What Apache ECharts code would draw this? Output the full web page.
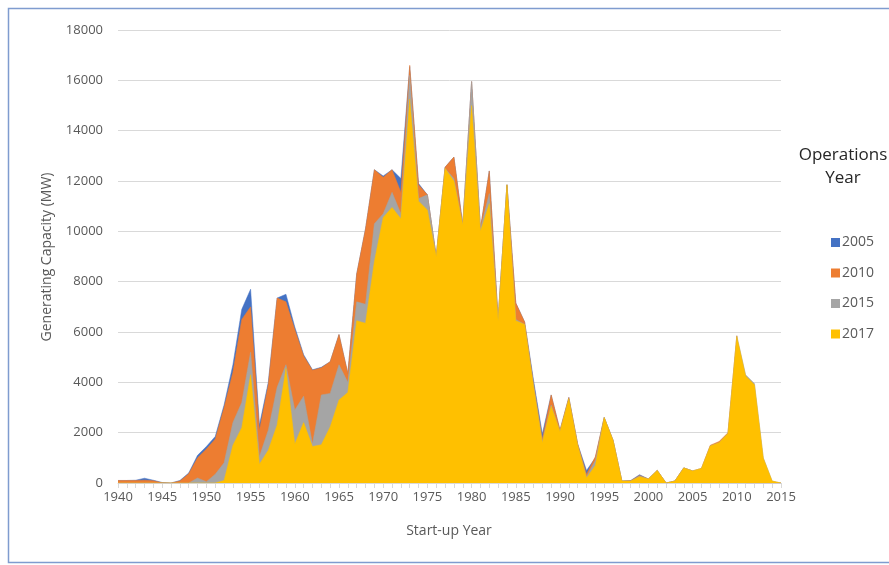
<!DOCTYPE html>
<html>
<head>
<meta charset="utf-8">
<script src="https://cdn.jsdelivr.net/npm/echarts@6/dist/echarts.min.js"></script>
<style>
html,body{margin:0;padding:0;background:#fff;}
#chart{width:889px;height:565px;}
</style>
</head>
<body>
<div id="chart"></div>
<script>
const years = ['1940','1941','1942','1943','1944','1945','1946','1947','1948','1949',
'1950','1951','1952','1953','1954','1955','1956','1957','1958','1959',
'1960','1961','1962','1963','1964','1965','1966','1967','1968','1969',
'1970','1971','1972','1973','1974','1975','1976','1977','1978','1979',
'1980','1981','1982','1983','1984','1985','1986','1987','1988','1989',
'1990','1991','1992','1993','1994','1995','1996','1997','1998','1999',
'2000','2001','2002','2003','2004','2005','2006','2007','2008','2009',
'2010','2011','2012','2013','2014','2015'];

const ops2005 = [100,100,110,190,110,20,0,100,400,1100,
1450,1850,3100,4700,6900,7700,2300,4000,7350,7500,
6200,5100,4500,4600,4820,5900,4350,8300,10100,12450,
12200,12450,12100,16550,11900,11450,9000,12550,12950,10250,
15950,10100,12400,6500,11850,7150,6400,4100,1950,3500,
2100,3400,1550,500,1000,2600,1700,80,100,330,
160,490,0,80,600,480,0,0,0,0,
0,0,0,0,0,0];

const ops2010 = [100,100,100,110,90,10,0,80,370,1000,
1350,1750,3000,4400,6500,7000,2100,3900,7350,7200,
6100,5050,4480,4580,4820,5900,4350,8300,10100,12450,
12150,12450,11550,16600,11850,11450,9000,12550,12950,10250,
15950,10100,12400,6500,11850,7150,6400,3950,1750,3500,
2100,3400,1550,350,1050,2600,1700,80,90,300,
160,500,0,80,600,480,580,1500,1650,2000,
5850,0,0,0,0,0];

const ops2015 = [0,0,0,0,0,0,0,0,0,200,
50,350,800,2400,3200,5200,1050,2100,3800,4700,
2900,3450,1550,3500,3560,4700,4000,7200,7100,10300,
10700,11550,10700,16200,11300,11450,9000,12500,12100,10250,
15950,10100,11500,6500,11850,6500,6300,3900,1650,3100,
2050,3350,1500,250,900,2600,1700,80,80,280,
160,500,0,80,600,480,580,1480,1600,1980,
5850,4300,3950,1000,80,0];

const ops2017 = [0,0,0,0,0,0,0,0,0,0,
0,0,100,1500,2200,4300,750,1300,2300,4550,
1550,2400,1450,1520,2230,3300,3600,6450,6350,8800,
10550,10950,10500,15250,11200,10850,9000,12500,12000,10250,
15000,10000,11100,6450,11850,6450,6300,3850,1600,3050,
2050,3350,1500,200,700,2600,1700,80,80,250,
160,500,0,80,600,480,580,1470,1600,1970,
5820,4250,3900,980,80,0];

const seriesNames = ['2005','2010','2015','2017'];
const seriesData = [ops2005, ops2010, ops2015, ops2017];
const colors = ['#4472C4','#ED7D31','#A5A5A5','#FFC000'];

const chart = echarts.init(document.getElementById('chart'));
const FONT = 'Open Sans';
chart.setOption({
  animation: false,
  backgroundColor: '#ffffff',
  grid: {left: 118, right: 108, top: 30, bottom: 82, containLabel: false},
  xAxis: {
    type: 'category',
    data: years,
    boundaryGap: false,
    axisLine: {show: true, lineStyle: {color: '#d9d9d9', width: 1}},
    axisTick: {show: true, interval: 0, length: 5, lineStyle: {color: '#d9d9d9'}},
    axisLabel: {interval: 4, color: '#595959', fontSize: 13, fontFamily: FONT, margin: 8},
    splitLine: {show: false}
  },
  yAxis: {
    type: 'value',
    min: 0, max: 18000, interval: 2000,
    axisLine: {show: false},
    axisTick: {show: false},
    axisLabel: {color: '#595959', fontSize: 13, fontFamily: FONT, margin: 15, formatter: v => String(v)},
    splitLine: {show: true, lineStyle: {color: '#d9d9d9', width: 1}}
  },
  legend: {
    orient: 'vertical',
    left: 826, top: 228,
    itemWidth: 9, itemHeight: 9,
    itemGap: 11.5,
    icon: 'rect',
    data: seriesNames,
    textStyle: {color: '#595959', fontSize: 14, fontFamily: FONT, lineHeight: 19, padding: [0,0,0,-3]}
  },
  graphic: [
    {type: 'rect', shape: {x: 8.5, y: 8.5, width: 920, height: 554}, style: {fill: 'none', stroke: '#7f9ccf', lineWidth: 1.5}, silent: true},
    {type: 'text', x: 843, y: 155, style: {text: 'Operations', fill: '#262626', font: '17px "Open Sans"', align: 'center', verticalAlign: 'middle'}},
    {type: 'text', x: 843, y: 178, style: {text: 'Year', fill: '#262626', font: '17px "Open Sans"', align: 'center', verticalAlign: 'middle'}},
    {type: 'text', x: 47, y: 257, rotation: Math.PI / 2, style: {text: 'Generating Capacity (MW)', fill: '#595959', font: '14px "Open Sans"', align: 'center', verticalAlign: 'middle'}},
    {type: 'text', x: 449, y: 531, style: {text: 'Start-up Year', fill: '#595959', font: '14px "Open Sans"', align: 'center', verticalAlign: 'middle'}}
  ],
  series: seriesNames.map((name, i) => ({
    name: name,
    type: 'line',
    data: seriesData[i],
    showSymbol: false,
    symbol: 'none',
    smooth: false,
    itemStyle: {color: colors[i]},
    lineStyle: {width: 0.5, color: colors[i]},
    areaStyle: {color: colors[i], opacity: 1},
    z: 2 + i
  }))
});
</script>
</body>
</html>
